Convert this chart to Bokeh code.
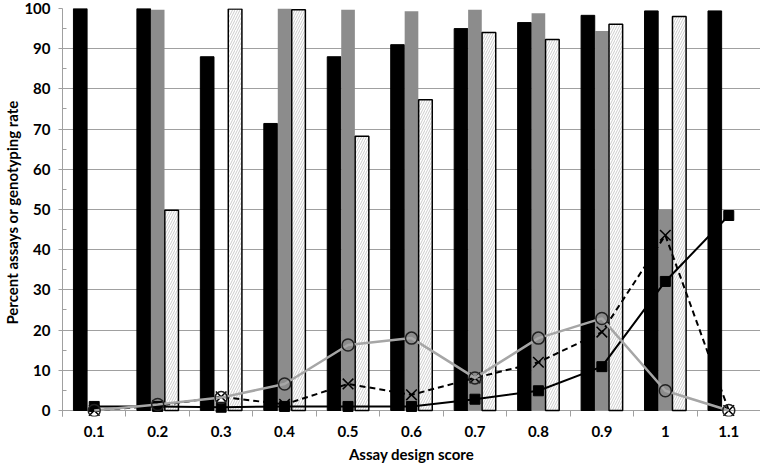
import numpy as np
from bokeh.plotting import figure
from bokeh.models import FixedTicker, Range1d, ColumnDataSource
from bokeh.transform import dodge
from bokeh.embed import file_html
from bokeh.resources import INLINE

categories = ["0.1", "0.2", "0.3", "0.4", "0.5", "0.6", "0.7", "0.8", "0.9", "1", "1.1"]
black_bars = [100, 100, 88, 71.4, 88, 91, 95, 96.5, 98.3, 99.4, 99.4]
gray_bars = [None, 99.7, None, 100, 99.7, 99.3, 99.7, 98.8, 94.4, 50, None]
hatched_bars = [None, 49.8, 99.9, 99.7, 68.2, 77.3, 94, 92.3, 96.1, 98, None]
square_line = [1, 1, 0.8, 1, 1, 1, 2.8, 4.9, 10.9, 32.1, 48.5]
cross_line = [0, 1.2, 3.4, 1.5, 6.6, 3.9, 8.1, 12, 19.5, 43.6, 0]
circle_line = [0, 1.5, 3.2, 6.6, 16.3, 18, 8.1, 18, 22.9, 4.9, 0]
y_ticks = list(range(0, 101, 10))

idx = np.arange(len(categories), dtype=float)

def nz(v):
    return [np.nan if a is None else a for a in v]

src = ColumnDataSource(dict(
    x=idx,
    black=black_bars,
    gray=nz(gray_bars),
    hatched=nz(hatched_bars),
    sq=square_line,
    cr=cross_line,
    ci=circle_line,
))

FONT = "Lato"

p = figure(width=760, height=465, output_backend="svg", toolbar_location=None,
           x_range=Range1d(-0.5, len(categories) - 0.5), y_range=Range1d(-1.5, 100),
           min_border_left=56, min_border_right=0, min_border_top=8, min_border_bottom=0)
p.outline_line_color = None
p.background_fill_color = "white"
p.border_fill_color = "white"

bw = 0.215
off = 0.22
p.vbar(x=dodge("x", -off), top="black", width=bw, bottom=0, source=src,
       fill_color="black", line_color="black")
p.vbar(x="x", top="gray", width=bw, bottom=0, source=src,
       fill_color="#8c8c8c", line_color=None)
p.vbar(x=dodge("x", off), top="hatched", width=bw, bottom=0, source=src,
       fill_color="white", line_color="black", line_width=1.5,
       hatch_pattern="/", hatch_color="#a8a8a8", hatch_scale=5, hatch_weight=0.6)

# lines
p.line("x", "sq", source=src, line_color="black", line_width=2)
p.scatter("x", "sq", source=src, marker="square", size=10, fill_color="black", line_color="black")
p.line("x", "cr", source=src, line_color="black", line_width=2, line_dash="6 4")
p.scatter("x", "cr", source=src, marker="x", size=15, line_color="black", line_width=1.5)
p.line("x", "ci", source=src, line_color="#a6a6a6", line_width=2.5)
p.scatter("x", "ci", source=src, marker="circle", size=12, fill_color=None,
          line_color="#222222", line_width=1.5)

# y axis
p.yaxis.ticker = FixedTicker(ticks=y_ticks, minor_ticks=list(range(5, 100, 10)))
p.yaxis.axis_line_color = "#a0a0a0"
p.yaxis.major_tick_line_color = "#a0a0a0"
p.yaxis.minor_tick_line_color = "#a0a0a0"
p.yaxis.major_tick_out = 4
p.yaxis.major_tick_in = 0
p.yaxis.minor_tick_in = 4
p.yaxis.minor_tick_out = 0
p.yaxis.major_label_standoff = 8
p.yaxis.axis_label = "Percent assays or genotyping rate"
p.yaxis.axis_label_standoff = 0
p.ygrid.ticker = FixedTicker(ticks=y_ticks)
p.ygrid.grid_line_color = "#a0a0a0"
p.ygrid.grid_line_width = 1

# x axis: category labels at centres, ticks at category boundaries rising to the zero line
p.xaxis.ticker = FixedTicker(ticks=list(idx), minor_ticks=list(np.arange(-0.5, len(categories), 1.0)))
p.xaxis.major_label_overrides = {float(i): c for i, c in enumerate(categories)}
p.xaxis.major_tick_line_color = None
p.xaxis.major_tick_out = 0
p.xaxis.major_tick_in = 0
p.xaxis.minor_tick_line_color = "#a0a0a0"
p.xaxis.minor_tick_out = 0
p.xaxis.minor_tick_in = 6
p.xaxis.axis_line_color = None
p.xaxis.major_label_standoff = 9
p.xaxis.axis_label = "Assay design score"
p.xaxis.axis_label_standoff = 5
p.xgrid.visible = False

for ax in (p.xaxis, p.yaxis):
    ax.major_label_text_font = FONT
    ax.major_label_text_font_style = "bold"
    ax.major_label_text_font_size = "15px"
    ax.major_label_text_color = "black"
    ax.axis_label_text_font = FONT
    ax.axis_label_text_font_style = "bold"
    ax.axis_label_text_font_size = "15px"
    ax.axis_label_text_color = "black"

open("out.html", "w").write(file_html(p, INLINE))
